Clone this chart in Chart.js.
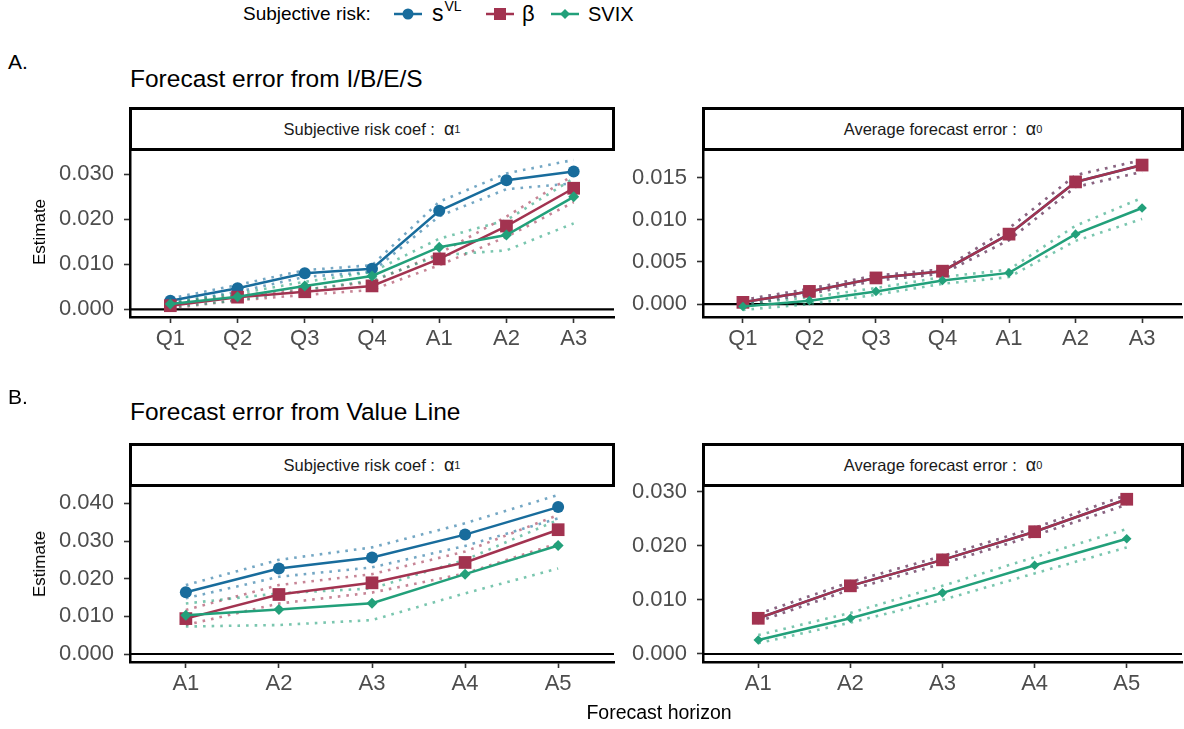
<!DOCTYPE html>
<html>
<head>
<meta charset="utf-8">
<script src="https://cdn.jsdelivr.net/npm/chart.js@4.4.1/dist/chart.umd.min.js"></script>
<style>
  html, body { margin: 0; padding: 0; background: #fff; overflow: hidden; }
  #fig { position: relative; width: 1184px; height: 729px; font-family: "Liberation Sans", Arial, Helvetica, sans-serif; color: #000; }
  .t { position: absolute; white-space: nowrap; line-height: 1; }
  .strip { position: absolute; box-sizing: border-box; border: 3px solid #000; background: #fff;
           display: flex; align-items: center; justify-content: center; font-size: 16.5px; color: #1a1a1a; z-index: 2; }
  .strip .g { font-size: 18px; margin-left: 9px; }
  .strip sub { font-size: 11px; vertical-align: -4px; }
  canvas { position: absolute; }
  .ytitle { position: absolute; font-size: 17px; transform: translate(-50%, -50%) rotate(-90deg); white-space: nowrap; }
</style>
</head>
<body>
<div id="fig">
  <!-- legend -->
  <div class="t" style="left:243px; top:4px; font-size:19px;">Subjective risk:</div>
  <svg style="position:absolute; left:393px; top:2px;" width="30" height="24">
    <line x1="1" y1="12" x2="29" y2="12" stroke="#186c9c" stroke-width="2.5"/>
    <circle cx="15" cy="12" r="5.5" fill="#186c9c"/>
  </svg>
  <div class="t" style="left:432px; top:2px; font-size:23px;">s<span style="font-size:14px; position:relative; top:-10px; left:1px;">VL</span></div>
  <svg style="position:absolute; left:485px; top:2px;" width="30" height="24">
    <line x1="1" y1="12" x2="29" y2="12" stroke="#a23350" stroke-width="2.5"/>
    <rect x="9" y="6" width="12" height="12" fill="#a23350"/>
  </svg>
  <div class="t" style="left:522px; top:3px; font-size:22px;">β</div>
  <svg style="position:absolute; left:550px; top:2px;" width="30" height="24">
    <line x1="1" y1="12" x2="29" y2="12" stroke="#22a07a" stroke-width="2.5"/>
    <polygon points="15,7 20,12 15,17 10,12" fill="#22a07a"/>
  </svg>
  <div class="t" style="left:588px; top:4px; font-size:20px;">SVIX</div>

  <!-- section A -->
  <div class="t" style="left:8px; top:51px; font-size:21px;">A.</div>
  <div class="t" style="left:130px; top:67px; font-size:24.5px;">Forecast error from I/B/E/S</div>
  <canvas id="aSlope"></canvas>
  <canvas id="aMean"></canvas>
  <div class="strip" style="left:129px; top:107px; width:486px; height:44px;">Subjective risk coef :<span class="g">α</span><sub>1</sub></div>
  <div class="strip" style="left:702px; top:107px; width:482px; height:44px;">Average forecast error :<span class="g">α</span><sub>0</sub></div>
  <div class="ytitle" style="left:40px; top:232px;">Estimate</div>

  <!-- section B -->
  <div class="t" style="left:8px; top:386px; font-size:21px;">B.</div>
  <div class="t" style="left:130px; top:400px; font-size:24.5px;">Forecast error from Value Line</div>
  <canvas id="bSlope"></canvas>
  <canvas id="bMean"></canvas>
  <div class="strip" style="left:129px; top:443px; width:486px; height:44px;">Subjective risk coef :<span class="g">α</span><sub>1</sub></div>
  <div class="strip" style="left:702px; top:443px; width:482px; height:44px;">Average forecast error :<span class="g">α</span><sub>0</sub></div>
  <div class="ytitle" style="left:40px; top:564px;">Estimate</div>

  <div class="t" style="left:659px; top:703px; font-size:19.5px; transform:translateX(-50%);">Forecast horizon</div>
</div>

<script>
// Horizons
const ibesHorizons = ['Q1', 'Q2', 'Q3', 'Q4', 'A1', 'A2', 'A3'];
const vlHorizons = ['A1', 'A2', 'A3', 'A4', 'A5'];

// Y tick values per panel
const ticksIbesSlope = [0, 0.01, 0.02, 0.03];
const ticksIbesMean = [0, 0.005, 0.01, 0.015];
const ticksVlSlope = [0, 0.01, 0.02, 0.03, 0.04];
const ticksVlMean = [0, 0.01, 0.02, 0.03];

// A. I/B/E/S, subjective risk coefficient (alpha_1): estimate, lower, upper
const ibesSlopeSvl   = [0.0019, 0.0047, 0.0080, 0.0090, 0.0219, 0.0287, 0.0306];
const ibesSlopeSvlLo = [0.0013, 0.0039, 0.0072, 0.0083, 0.0207, 0.0267, 0.0280];
const ibesSlopeSvlHi = [0.0024, 0.0054, 0.0087, 0.0098, 0.0239, 0.0302, 0.0332];
const ibesSlopeBeta   = [0.0008, 0.0027, 0.0039, 0.0052, 0.0112, 0.0185, 0.0269];
const ibesSlopeBetaLo = [0.0002, 0.0020, 0.0032, 0.0043, 0.0098, 0.0161, 0.0238];
const ibesSlopeBetaHi = [0.0013, 0.0031, 0.0044, 0.0061, 0.0124, 0.0206, 0.0298];
const ibesSlopeSvix   = [0.0012, 0.0028, 0.0052, 0.0074, 0.0138, 0.0165, 0.0250];
const ibesSlopeSvixLo = [0.0005, 0.0020, 0.0043, 0.0064, 0.0120, 0.0131, 0.0191];
const ibesSlopeSvixHi = [0.0016, 0.0035, 0.0061, 0.0083, 0.0157, 0.0198, 0.0291];

// A. I/B/E/S, average forecast error (alpha_0)
const ibesMeanSvl   = [0.0002, 0.0015, 0.0031, 0.0039, 0.0083, 0.0145, 0.0165];
const ibesMeanSvlLo = [-0.0001, 0.0012, 0.0028, 0.0036, 0.0076, 0.0139, 0.0157];
const ibesMeanSvlHi = [0.0005, 0.0018, 0.0034, 0.0041, 0.0090, 0.0153, 0.0171];
const ibesMeanBeta   = [0.0002, 0.0015, 0.0031, 0.0039, 0.0083, 0.0145, 0.0165];
const ibesMeanBetaLo = [-0.0001, 0.0012, 0.0028, 0.0036, 0.0076, 0.0139, 0.0157];
const ibesMeanBetaHi = [0.0005, 0.0018, 0.0034, 0.0041, 0.0090, 0.0153, 0.0171];
const ibesMeanSvix   = [-0.0003, 0.0004, 0.0015, 0.0028, 0.0037, 0.0083, 0.0114];
const ibesMeanSvixLo = [-0.0007, 0.0000, 0.0011, 0.0024, 0.0032, 0.0075, 0.0101];
const ibesMeanSvixHi = [0.0000, 0.0008, 0.0019, 0.0032, 0.0041, 0.0093, 0.0126];

// B. Value Line, subjective risk coefficient (alpha_1)
const vlSlopeSvl   = [0.0164, 0.0227, 0.0256, 0.0317, 0.0390];
const vlSlopeSvlLo = [0.0148, 0.0205, 0.0230, 0.0287, 0.0360];
const vlSlopeSvlHi = [0.0183, 0.0250, 0.0283, 0.0347, 0.0422];
const vlSlopeBeta   = [0.0094, 0.0158, 0.0189, 0.0243, 0.0330];
const vlSlopeBetaLo = [0.0077, 0.0134, 0.0163, 0.0214, 0.0294];
const vlSlopeBetaHi = [0.0117, 0.0183, 0.0212, 0.0272, 0.0369];
const vlSlopeSvix   = [0.0103, 0.0118, 0.0135, 0.0212, 0.0288];
const vlSlopeSvixLo = [0.0073, 0.0077, 0.0090, 0.0161, 0.0227];
const vlSlopeSvixHi = [0.0134, 0.0161, 0.0174, 0.0250, 0.0356];

// B. Value Line, average forecast error (alpha_0)
const vlMeanSvl   = [0.0066, 0.0126, 0.0174, 0.0226, 0.0286];
const vlMeanSvlLo = [0.0060, 0.0119, 0.0167, 0.0219, 0.0276];
const vlMeanSvlHi = [0.0074, 0.0133, 0.0181, 0.0233, 0.0294];
const vlMeanBeta   = [0.0066, 0.0126, 0.0174, 0.0226, 0.0286];
const vlMeanBetaLo = [0.0060, 0.0119, 0.0167, 0.0219, 0.0276];
const vlMeanBetaHi = [0.0074, 0.0133, 0.0181, 0.0233, 0.0294];
const vlMeanSvix   = [0.0026, 0.0066, 0.0113, 0.0164, 0.0213];
const vlMeanSvixLo = [0.0020, 0.0058, 0.0100, 0.0149, 0.0197];
const vlMeanSvixHi = [0.0035, 0.0076, 0.0126, 0.0179, 0.0231];

const COLORS = { svl: '#186c9c', beta: '#a23350', svix: '#22a07a' };
const FONT = '"Liberation Sans", Arial, Helvetica, sans-serif';

function fade(hex, a) {
  const n = parseInt(hex.slice(1), 16);
  return `rgba(${(n >> 16) & 255}, ${(n >> 8) & 255}, ${n & 255}, ${a})`;
}

// Horizontal reference line at zero
const zeroLine = {
  id: 'zeroLine',
  beforeDatasetsDraw(chart) {
    const { ctx, chartArea, scales } = chart;
    const py = scales.y.getPixelForValue(0);
    ctx.save();
    ctx.strokeStyle = '#000';
    ctx.lineWidth = 2.2;
    ctx.beginPath();
    ctx.moveTo(chartArea.left, py);
    ctx.lineTo(chartArea.right, py);
    ctx.stroke();
    ctx.restore();
  }
};

function seriesSets(est, lo, hi, color, style, radius, order) {
  const pts = arr => arr.map((v, i) => ({ x: i, y: v }));
  const band = arr => ({
    data: pts(arr), borderColor: fade(color, 0.6), borderWidth: 2.6,
    borderDash: [2.6, 6], pointRadius: 0, fill: false, order: order + 10
  });
  return [
    { data: pts(est), borderColor: color, backgroundColor: color, borderWidth: 2.5,
      pointStyle: style, pointRadius: radius, pointBorderWidth: 0, pointBackgroundColor: color,
      fill: false, order: order },
    band(lo), band(hi)
  ];
}

// plot: page coordinates of the panel area (left, right, top, bottom)
function panel(id, plot, canvasLeft, cats, yTicks, yMin, yMax, series) {
  const padTop = 34, padRight = 10, axisH = 45;
  const cv = document.getElementById(id);
  const w = plot.R + padRight - canvasLeft;
  const h = (plot.B + axisH) - (plot.T - padTop);
  cv.width = w; cv.height = h;
  cv.style.left = canvasLeft + 'px';
  cv.style.top = (plot.T - padTop) + 'px';
  cv.style.width = w + 'px'; cv.style.height = h + 'px';

  const datasets = [];
  series.forEach(s => datasets.push(...seriesSets(s.est, s.lo, s.hi, s.color, s.style, s.radius, s.order)));

  const tickFont = { family: FONT, size: 22 };
  new Chart(cv, {
    type: 'line',
    data: { datasets },
    plugins: [zeroLine],
    options: {
      responsive: false, animation: false, devicePixelRatio: 1,
      layout: { padding: { top: padTop, right: padRight, left: 0, bottom: 0 } },
      plugins: { legend: { display: false }, tooltip: { enabled: false } },
      elements: { line: { tension: 0 } },
      scales: {
        x: {
          type: 'linear', min: -0.6, max: cats.length - 1 + 0.6,
          afterBuildTicks: s => { s.ticks = cats.map((c, i) => ({ value: i })); },
          afterFit: s => { s.height = axisH; },
          ticks: { callback: v => cats[v], font: tickFont, color: '#4d4d4d', padding: 3, maxRotation: 0, autoSkip: false },
          grid: { drawOnChartArea: false, drawTicks: true, tickLength: 6, color: '#333', tickWidth: 1.6 },
          border: { display: true, color: '#000', width: 2.5 }
        },
        y: {
          type: 'linear', min: yMin, max: yMax,
          afterBuildTicks: s => { s.ticks = yTicks.map(v => ({ value: v })); },
          afterFit: s => { s.width = plot.L - canvasLeft; },
          ticks: { callback: v => v.toFixed(3), font: tickFont, color: '#4d4d4d', padding: 10 },
          grid: { drawOnChartArea: false, drawTicks: true, tickLength: 6, color: '#333', tickWidth: 1.6 },
          border: { display: true, color: '#000', width: 2.5 }
        }
      }
    }
  });
}

panel('aSlope', { L: 130, R: 614, T: 150, B: 317 }, 0, ibesHorizons, ticksIbesSlope, -0.00171, 0.0354, [
  { est: ibesSlopeSvl, lo: ibesSlopeSvlLo, hi: ibesSlopeSvlHi, color: COLORS.svl, style: 'circle', radius: 6, order: 2 },
  { est: ibesSlopeBeta, lo: ibesSlopeBetaLo, hi: ibesSlopeBetaHi, color: COLORS.beta, style: 'rect', radius: 9, order: 1 },
  { est: ibesSlopeSvix, lo: ibesSlopeSvixLo, hi: ibesSlopeSvixHi, color: COLORS.svix, style: 'rectRot', radius: 5.5, order: 0 }
]);

panel('aMean', { L: 703, R: 1182, T: 150, B: 317 }, 620, ibesHorizons, ticksIbesMean, -0.00154, 0.01829, [
  { est: ibesMeanSvl, lo: ibesMeanSvlLo, hi: ibesMeanSvlHi, color: COLORS.svl, style: 'circle', radius: 6, order: 2 },
  { est: ibesMeanBeta, lo: ibesMeanBetaLo, hi: ibesMeanBetaHi, color: COLORS.beta, style: 'rect', radius: 9, order: 1 },
  { est: ibesMeanSvix, lo: ibesMeanSvixLo, hi: ibesMeanSvixHi, color: COLORS.svix, style: 'rectRot', radius: 4.8, order: 0 }
]);

panel('bSlope', { L: 130, R: 614, T: 486, B: 662 }, 0, vlHorizons, ticksVlSlope, -0.00212, 0.0446, [
  { est: vlSlopeSvl, lo: vlSlopeSvlLo, hi: vlSlopeSvlHi, color: COLORS.svl, style: 'circle', radius: 6, order: 2 },
  { est: vlSlopeBeta, lo: vlSlopeBetaLo, hi: vlSlopeBetaHi, color: COLORS.beta, style: 'rect', radius: 9, order: 1 },
  { est: vlSlopeSvix, lo: vlSlopeSvixLo, hi: vlSlopeSvixHi, color: COLORS.svix, style: 'rectRot', radius: 5.5, order: 0 }
]);

panel('bMean', { L: 703, R: 1182, T: 486, B: 662 }, 620, vlHorizons, ticksVlMean, -0.00148, 0.03105, [
  { est: vlMeanSvl, lo: vlMeanSvlLo, hi: vlMeanSvlHi, color: COLORS.svl, style: 'circle', radius: 6, order: 2 },
  { est: vlMeanBeta, lo: vlMeanBetaLo, hi: vlMeanBetaHi, color: COLORS.beta, style: 'rect', radius: 9, order: 1 },
  { est: vlMeanSvix, lo: vlMeanSvixLo, hi: vlMeanSvixHi, color: COLORS.svix, style: 'rectRot', radius: 4.8, order: 0 }
]);
</script>
</body>
</html>
